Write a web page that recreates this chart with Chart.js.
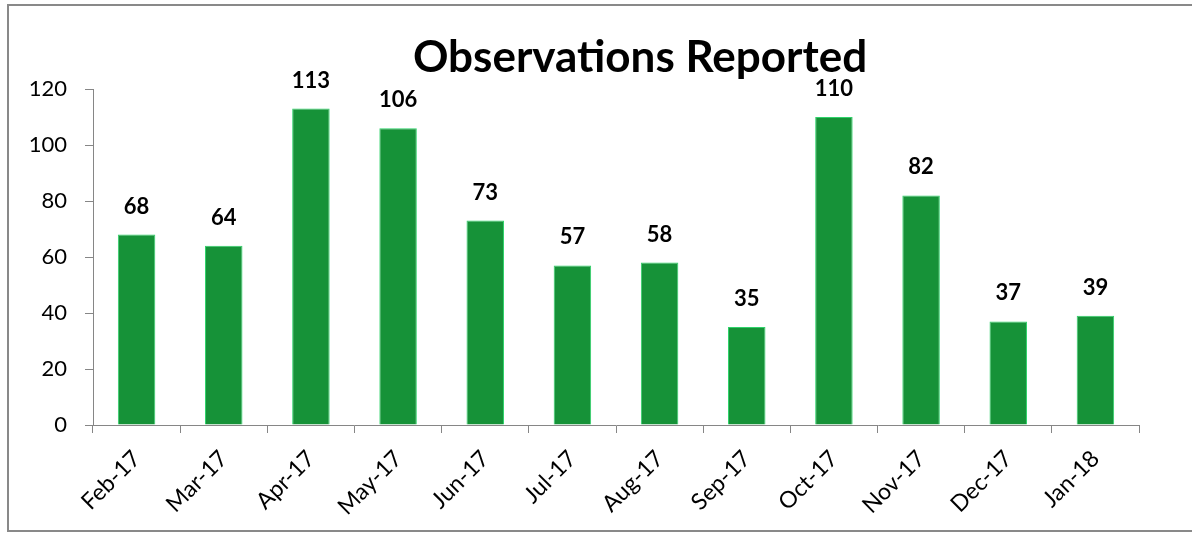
<!DOCTYPE html>
<html>
<head>
<meta charset="utf-8">
<script src="https://cdn.jsdelivr.net/npm/chart.js@4.4.0/dist/chart.umd.min.js"></script>
<style>
  html, body { margin: 0; padding: 0; background: #fff; }
  #wrap { width: 1192px; height: 533px; position: relative; }
</style>
</head>
<body>
<div id="wrap"><canvas id="obsChart" width="1192" height="533"></canvas></div>
<script>
// Observaciones reportadas por mes
const months = ['Feb-17', 'Mar-17', 'Apr-17', 'May-17', 'Jun-17', 'Jul-17',
  'Aug-17', 'Sep-17', 'Oct-17', 'Nov-17', 'Dec-17', 'Jan-18'];
const observations = [68, 64, 113, 106, 73, 57, 58, 35, 110, 82, 37, 39];
const yTicks = [0, 20, 40, 60, 80, 100, 120];

const FONT = 'Lato, Calibri, "Open Sans", sans-serif';
const AXIS_GREY = '#868686';

// marco gris y titulo
const framePlugin = {
  id: 'frame',
  beforeDraw(chart) {
    const ctx = chart.ctx;
    ctx.save();
    ctx.fillStyle = '#fff';
    ctx.fillRect(0, 0, chart.width, chart.height);
    ctx.strokeStyle = '#898989';
    ctx.lineWidth = 2;
    ctx.strokeRect(8, 5, chart.width + 20, chart.height - 7);
    ctx.restore();
  },
  afterDraw(chart) {
    const ctx = chart.ctx;
    ctx.save();
    ctx.font = 'bold 44px ' + FONT;
    ctx.fillStyle = '#000';
    ctx.textAlign = 'center';
    ctx.textBaseline = 'alphabetic';
    ctx.fillText('Observations Reported', 640, 72);
    ctx.restore();
  }
};

// etiquetas de valor encima de cada barra
const valueLabels = {
  id: 'valueLabels',
  afterDatasetsDraw(chart) {
    const ctx = chart.ctx;
    const meta = chart.getDatasetMeta(0);
    ctx.save();
    ctx.font = 'bold 22px ' + FONT;
    ctx.fillStyle = '#000';
    ctx.textAlign = 'center';
    ctx.textBaseline = 'bottom';
    meta.data.forEach((bar, i) => {
      ctx.fillText(String(observations[i]), bar.x, bar.y - 17);
    });
    ctx.restore();
  }
};

const config = {
  type: 'bar',
  data: {
    labels: months,
    datasets: [{
      label: 'Observations',
      data: observations,
      backgroundColor: '#169238',
      borderColor: '#2fd36a',
      borderWidth: 1,
      categoryPercentage: 1,
      barPercentage: 0.43
    }]
  },
  options: {
    responsive: false,
    animation: false,
    layout: { padding: { top: 89, right: 53, left: 0, bottom: 0 } },
    plugins: {
      legend: { display: false },
      title: { display: false },
      tooltip: { enabled: false }
    },
    scales: {
      x: {
        afterFit(scale) { scale.height = 108; },
        grid: { display: true, drawOnChartArea: false, drawTicks: true, tickLength: 8, color: AXIS_GREY, offset: true },
        border: { display: true, color: AXIS_GREY, width: 1 },
        ticks: {
          color: '#000',
          font: { family: FONT, size: 23 },
          maxRotation: 45,
          minRotation: 45,
          padding: 12,
          autoSkip: false
        }
      },
      y: {
        min: 0,
        max: 120,
        afterFit(scale) { scale.width = 93; },
        afterBuildTicks(scale) { scale.ticks = yTicks.map(v => ({ value: v })); },
        grid: { display: true, drawOnChartArea: false, drawTicks: true, tickLength: 8, color: AXIS_GREY },
        border: { display: true, color: AXIS_GREY, width: 1 },
        ticks: {
          color: '#000',
          font: { family: FONT, size: 22 },
          padding: 18
        }
      }
    }
  },
  plugins: [framePlugin, valueLabels]
};

const obsChart = new Chart(document.getElementById('obsChart'), config);
</script>
</body>
</html>
